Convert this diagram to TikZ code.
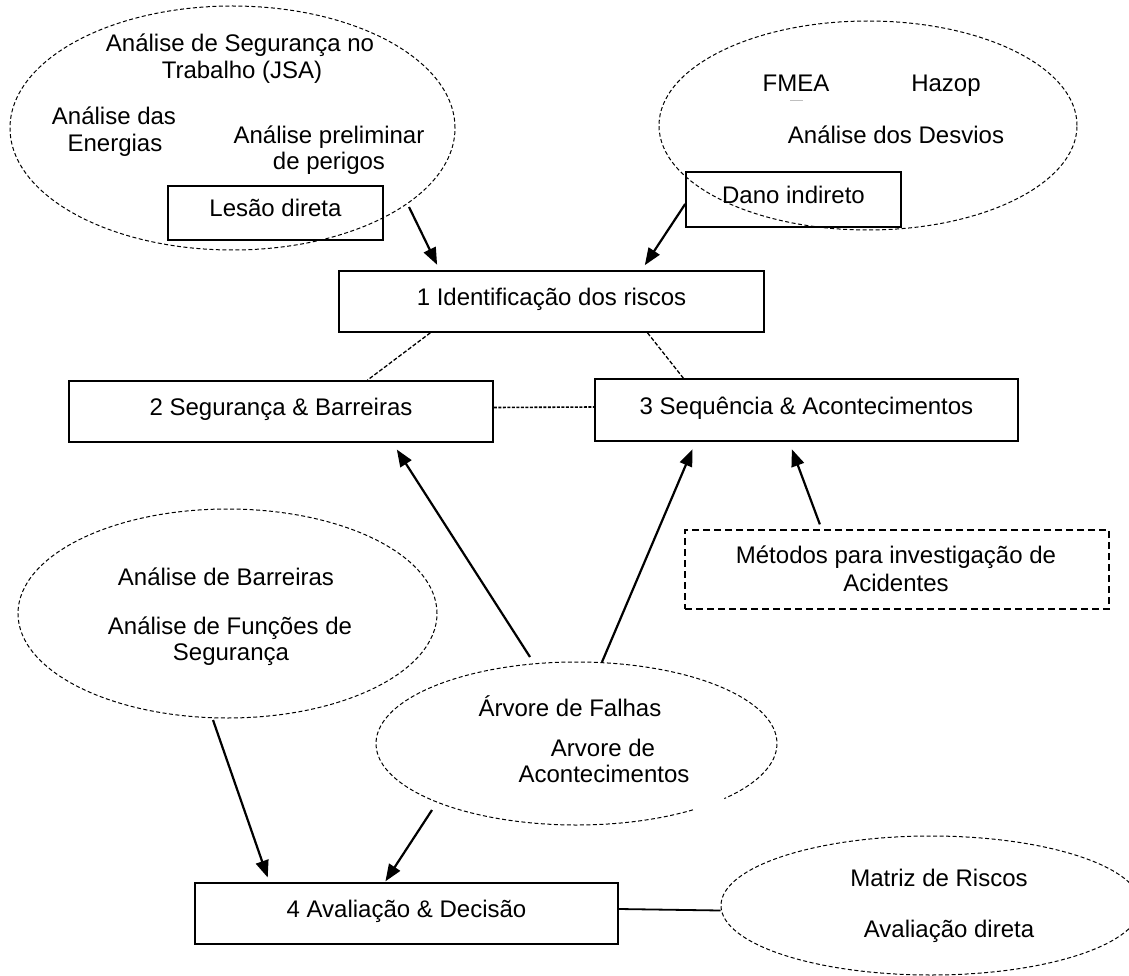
\documentclass[tikz,border=0pt]{standalone}
\usepackage{fontspec}
\setmainfont{Liberation Sans}
\usetikzlibrary{shapes.geometric,arrows.meta,calc}
\begin{document}
\begin{tikzpicture}[x=1pt,y=-1pt,
  txt/.style={font=\fontsize{24}{27}\selectfont, inner sep=0pt, anchor=base},
  boxnode/.style={draw, line width=1.6pt, inner sep=0pt, text height=17pt, text depth=9pt,
                  font=\fontsize{24}{27}\selectfont},
  methbox/.style={draw, line width=1.9pt, dash pattern=on 7pt off 4pt, inner sep=0pt},
  ell/.style={ellipse, draw, dash pattern=on 4pt off 2.5pt, line width=1pt, inner sep=0pt},
  ellhidden/.style={ellipse, inner sep=0pt},
  elldash/.style={dash pattern=on 4pt off 2.5pt, line width=1pt},
  link/.style={dash pattern=on 4pt off 2pt, line width=1.3pt},
  densehlink/.style={dash pattern=on 3pt off 1.5pt, line width=1.6pt},
  arr/.style={line width=2.2pt, -{Triangle[length=17pt,width=13pt]}},
  plain/.style={line width=1.8pt}
]
\useasboundingbox (0,0) rectangle (1129,976);
\fill[white] (0,0) rectangle (1129,976);

% --- method clouds ---
\node[ell, minimum width=445pt, minimum height=244pt] (e1) at (232.5,128) {};
\node[ell, minimum width=418pt, minimum height=209pt] (e2) at (868,125.5) {};
\node[ell, minimum width=419pt, minimum height=209pt] (e3) at (227.5,613.5) {};
\node[ellhidden, minimum width=401pt, minimum height=163pt] (e4) at (576.5,743.5) {};
\draw[elldash] (e4.center) ++(54.5:200.5 and 81.5)
  arc[start angle=54.5, end angle=402.5, x radius=200.5, y radius=81.5];
\node[ell, minimum width=420pt, minimum height=139pt] (e5) at (931,905.5) {};

% --- texts inside the clouds (placed on their baselines) ---
\node[txt] (jsaA) at (240,52) {Análise de Segurança no};
\node[txt] (jsaB) at (242,79) {Trabalho (JSA)};
\node[txt] (enA) at (114,125) {Análise das};
\node[txt] (enB) at (115,152) {Energias};
\node[txt] (prA) at (329,144) {Análise preliminar};
\node[txt] (prB) at (329,170) {de perigos};
\node[txt] (fmea) at (796,92) {FMEA};
\node[txt] (hazop) at (946,92) {Hazop};
\draw[gray!50, line width=1pt] (790,101) -- (803,101);
\node[txt] (desvios) at (896,144) {Análise dos Desvios};
\node[txt] (barr) at (226,585) {Análise de Barreiras};
\node[txt] (fnA) at (230,634) {Análise de Funções de};
\node[txt] (fnB) at (231,660) {Segurança};
\node[txt] (falhas) at (570,716) {Árvore de Falhas};
\node[txt] (acA) at (603,756) {Arvore de};
\node[txt] (acB) at (604,782) {Acontecimentos};
\node[txt] (matriz) at (939,886) {Matriz de Riscos};
\node[txt] (avdir) at (949,937) {Avaliação direta};

% --- boxes ---
\node[boxnode, minimum width=215pt, minimum height=54pt] (lesao) at (275.5,213) {Lesão direta};
\node[boxnode, minimum width=215pt, minimum height=55pt] (dano) at (793.5,199.5) {Dano indireto};
\node[boxnode, minimum width=425pt, minimum height=61pt] (r1) at (551.5,301.5) {1 Identificação dos riscos};
\node[boxnode, minimum width=424pt, minimum height=61pt] (r2) at (281,411.5) {2 Segurança \& Barreiras};
\node[boxnode, minimum width=423pt, minimum height=62pt] (r3) at (806.5,410) {3 Sequência \& Acontecimentos};
\node[boxnode, minimum width=423pt, minimum height=61pt] (r4) at (406.5,913.5) {4 Avaliação \& Decisão};
\node[methbox, minimum width=424pt, minimum height=79pt] (met) at (897,569.5) {};
\node[txt] (metA) at (896,563) {Métodos para investigação de};
\node[txt] (metB) at (896,591) {Acidentes};

% --- free ends of the arrows ---
\coordinate (s1) at (409,207);
\coordinate (s3) at (530,657);
\coordinate (s4) at (602,662);
\coordinate (s6) at (213,720);
\coordinate (s7) at (432,810);

% --- arrows ---
\draw[arr, shorten >=6pt] (s1) -- ($(r1.north west)!0.238!(r1.north east)$);
\draw[arr, shorten >=6pt] ($(dano.west)+(0,4.5)$) -- ($(r1.north west)!0.711!(r1.north east)$);
\draw[arr, shorten >=8pt] (s3) -- ($(r2.south west)!0.762!(r2.south east)$);
\draw[arr, shorten >=8pt] (s4) -- ($(r3.south west)!0.239!(r3.south east)$);
\draw[arr, shorten <=5pt, shorten >=8pt] ($(met.north west)!0.323!(met.north east)$) -- ($(r3.south west)!0.459!(r3.south east)$);
\draw[arr, shorten >=5pt] (s6) -- ($(r4.north west)!0.177!(r4.north east)$);
\draw[arr, shorten >=1pt] (s7) -- ($(r4.north west)!0.449!(r4.north east)$);

% --- dashed links between the steps ---
\draw[link] ($(r1.south west)!0.216!(r1.south east)$) -- ($(r2.north west)!0.703!(r2.north east)$);
\draw[link] ($(r1.south west)!0.725!(r1.south east)$) -- ($(r3.north west)!0.21!(r3.north east)$);
\draw[densehlink] ($(r2.east)+(0,-4)$) -- ($(r3.west)+(0,-3)$);

% --- decision to evaluation methods ---
\draw[plain] ($(r4.east)+(0,-4.5)$) -- ($(e5.west)+(0,5)$);
\end{tikzpicture}
\end{document}
